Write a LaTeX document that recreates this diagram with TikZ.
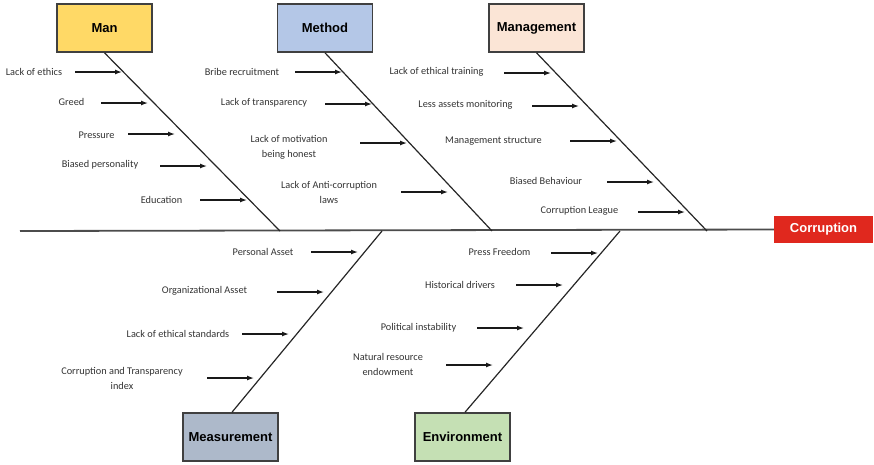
\documentclass[tikz,border=0pt]{standalone}
\usepackage{fontspec}
\setmainfont{Carlito}
\newfontfamily\headfont{Liberation Sans}
\usetikzlibrary{arrows.meta}

\definecolor{manfill}{HTML}{FFD966}
\definecolor{methodfill}{HTML}{B4C7E7}
\definecolor{mgmtfill}{HTML}{FBE5D6}
\definecolor{measfill}{HTML}{ADB9CA}
\definecolor{envfill}{HTML}{C5E0B4}
\definecolor{effectfill}{HTML}{E0281E}

\begin{document}
\begin{tikzpicture}[x=1pt,y=-1pt,
    category/.style={draw=black!75, line width=1.6pt, minimum width=95pt,
      minimum height=48pt, inner sep=0pt, font=\headfont\fontsize{13}{15}\selectfont\bfseries},
    effect/.style={fill=effectfill, text=white, minimum width=99pt, minimum height=27pt,
      inner sep=0pt, font=\headfont\fontsize{13}{15}\selectfont\bfseries},
    cause/.style={text=black!80, align=center, inner sep=0pt,
      font=\fontsize{10.3}{15}\selectfont},
    bone/.style={draw=black!85, line width=1.2pt},
    arr/.style={draw=black!90, line width=1.3pt, -{Latex[length=7pt,width=5pt]}}]
    \useasboundingbox (0,0) rectangle (874,464);

    % head and category boxes
    \node[effect] (corr) at (823.5,229.5) {Corruption};
    \node[category, fill=manfill] (man) at (104.5,28) {Man};
    \node[category, fill=methodfill] (method) at (325,28) {Method};
    \node[category, fill=mgmtfill] (mgmt) at (536.5,28) {Management};
    \node[category, fill=measfill] (meas) at (230.5,437) {Measurement};
    \node[category, fill=envfill] (env) at (462.5,437) {Environment};

    % spine and bones
    \coordinate (tail) at (20,231);
    \coordinate (jman) at (280,231);
    \coordinate (jmethod) at (492,231);
    \coordinate (jmgmt) at (707,231);
    \coordinate (jmeas) at (382,231);
    \coordinate (jenv) at (620,231);
    \draw[draw=black!70, line width=1.8pt] (tail) -- (corr.west);
    \draw[bone] (man.south) -- (jman);
    \draw[bone] (method.south) -- (jmethod);
    \draw[bone] (mgmt.south) -- (jmgmt);
    \draw[bone] ([xshift=1.5pt]meas.north) -- (jmeas);
    \draw[bone] ([xshift=2.5pt]env.north) -- (jenv);

    % Man
    \node[cause] (m1l) at (34,72) {Lack of ethics};
    \node[cause] (m2l) at (71.5,102) {Greed};
    \node[cause] (m3l) at (96.5,135) {Pressure};
    \node[cause] (m4l) at (100,165) {Biased personality};
    \node[cause] (m5l) at (161.5,200) {Education};
    \coordinate (m1) at (122,72);
    \coordinate (m2) at (148,103);
    \coordinate (m3) at (175,134);
    \coordinate (m4) at (207,166);
    \coordinate (m5) at (247,200);
    \draw[arr] ([xshift=-47pt]m1) -- (m1);
    \draw[arr] ([xshift=-47pt]m2) -- (m2);
    \draw[arr] ([xshift=-47pt]m3) -- (m3);
    \draw[arr] ([xshift=-47pt]m4) -- (m4);
    \draw[arr] ([xshift=-47pt]m5) -- (m5);

    % Method
    \node[cause] (t1l) at (242,72) {Bribe recruitment};
    \node[cause] (t2l) at (264,103) {Lack of transparency};
    \node[cause] (t3l) at (289,147.5) {Lack of motivation\\being honest};
    \node[cause] (t4l) at (329,192.5) {Lack of Anti-corruption\\laws};
    \coordinate (t1) at (342,72);
    \coordinate (t2) at (372,104);
    \coordinate (t3) at (407,143);
    \coordinate (t4) at (448,192);
    \draw[arr] ([xshift=-47pt]t1) -- (t1);
    \draw[arr] ([xshift=-47pt]t2) -- (t2);
    \draw[arr] ([xshift=-47pt]t3) -- (t3);
    \draw[arr] ([xshift=-47pt]t4) -- (t4);

    % Management
    \node[cause] (g1l) at (436.5,72) {Lack of ethical training};
    \node[cause] (g2l) at (465.5,105) {Less assets monitoring};
    \node[cause] (g3l) at (493.5,141) {Management structure};
    \node[cause] (g4l) at (546,181) {Biased Behaviour};
    \node[cause] (g5l) at (579.5,211) {Corruption League};
    \coordinate (g1) at (551,73);
    \coordinate (g2) at (579,106);
    \coordinate (g3) at (617,141);
    \coordinate (g4) at (654,182);
    \coordinate (g5) at (685,212);
    \draw[arr] ([xshift=-47pt]g1) -- (g1);
    \draw[arr] ([xshift=-47pt]g2) -- (g2);
    \draw[arr] ([xshift=-47pt]g3) -- (g3);
    \draw[arr] ([xshift=-47pt]g4) -- (g4);
    \draw[arr] ([xshift=-47pt]g5) -- (g5);

    % Measurement
    \node[cause] (s1l) at (263,252) {Personal Asset};
    \node[cause] (s2l) at (204.5,291) {Organizational Asset};
    \node[cause] (s3l) at (178,334) {Lack of ethical standards};
    \node[cause] (s4l) at (122,378) {Corruption and Transparency\\index};
    \coordinate (s1) at (358,252);
    \coordinate (s2) at (324,292);
    \coordinate (s3) at (289,334);
    \coordinate (s4) at (254,378);
    \draw[arr] ([xshift=-47pt]s1) -- (s1);
    \draw[arr] ([xshift=-47pt]s2) -- (s2);
    \draw[arr] ([xshift=-47pt]s3) -- (s3);
    \draw[arr] ([xshift=-47pt]s4) -- (s4);

    % Environment
    \node[cause] (e1l) at (499.5,252) {Press Freedom};
    \node[cause] (e2l) at (460,285) {Historical drivers};
    \node[cause] (e3l) at (418.5,328) {Political instability};
    \node[cause] (e4l) at (388,364) {Natural resource\\endowment};
    \coordinate (e1) at (598,253);
    \coordinate (e2) at (563,285);
    \coordinate (e3) at (524,328);
    \coordinate (e4) at (493,365);
    \draw[arr] ([xshift=-47pt]e1) -- (e1);
    \draw[arr] ([xshift=-47pt]e2) -- (e2);
    \draw[arr] ([xshift=-47pt]e3) -- (e3);
    \draw[arr] ([xshift=-47pt]e4) -- (e4);
\end{tikzpicture}
\end{document}
